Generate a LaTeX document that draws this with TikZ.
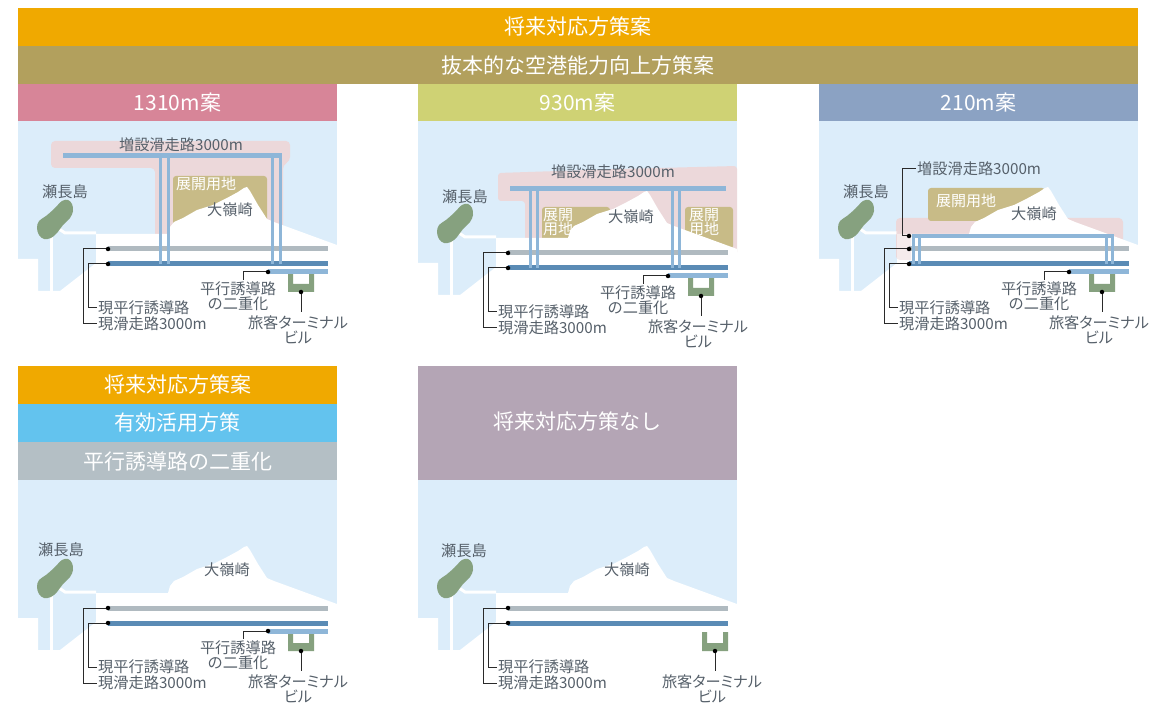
\documentclass[tikz,border=0pt]{standalone}
\usepackage{fontspec}
\setmainfont{Noto Sans CJK JP}
\newfontfamily\kanafont[RawFeature=+palt]{Noto Sans CJK JP}
\usetikzlibrary{calc}

\definecolor{barorange}{HTML}{F0A900}
\definecolor{barolive}{HTML}{B2A05D}
\definecolor{hdpink}{HTML}{D78598}
\definecolor{hdlime}{HTML}{CFD274}
\definecolor{hdsteel}{HTML}{8BA2C3}
\definecolor{hdsky}{HTML}{63C3EE}
\definecolor{hdgray}{HTML}{B4BFC5}
\definecolor{hdmauve}{HTML}{B4A5B5}
\definecolor{sea}{HTML}{DCEDFA}
\definecolor{reclaim}{HTML}{ECD8DA}
\definecolor{devland}{HTML}{C8BB87}
\definecolor{isle}{HTML}{86A17F}
\definecolor{rwblue}{HTML}{5A8BB5}
\definecolor{twgray}{HTML}{B0BAC0}
\definecolor{newblue}{HTML}{8EB6D8}
\definecolor{lbltext}{HTML}{56606A}
\definecolor{leadline}{HTML}{2A2A2A}

\tikzset{
  hdtext/.style={text=white, font=\fontsize{21}{23}\selectfont, inner sep=0pt},
  lbl/.style={text=lbltext, font=\fontsize{15.2}{15}\selectfont, inner sep=1pt},
  devlbl/.style={text=white, font=\fontsize{15}{14}\selectfont, inner sep=0pt},
  leader/.style={draw=leadline, line width=1pt},
  dotmark/.style={circle, fill=black, inner sep=0pt, minimum size=4.5pt},
  rwy/.style={draw=#1, line width=5pt},
  link/.style={draw=newblue, line width=3pt}
}

% sea background of one map
\newcommand\mapSea{\fill[sea] (0,-4) rectangle (319,176);}

% coast, piers, island and place names
\newcommand\mapLand[5]{%
  \fill[white] (0,180) -- (0,138) -- (20,138) -- (20,170) -- (42,170) -- (78,142) -- (78,113)
    -- (150,113) -- (152,106) -- (156,101) -- (165,97) -- (179,89) -- (195,84) -- (209,77)
    -- (220,71) -- (226,67) -- (229,66) -- (232,70) -- (240,84) -- (249,98) -- (256,101)
    -- (319,124) -- (319,180) -- cycle;
  \draw[white, line width=3pt] (33,108) -- (33,171);
  \draw[white, line width=3pt] (38,106) -- (47,112) -- (78,112);
  \fill[isle] plot[smooth cycle, tension=0.6] coordinates
    {(44,80) (50,79) (54,83) (55,90) (52,97) (45,104) (39,112) (33,117) (26,118) (21,114) (19,107) (21,100) (28,95) (36,88)};
  \node[lbl] (#1-isl) at (#2,#3) {瀬長島};
  \node[lbl] (#1-mt) at (#4,#5) {大嶺崎};
}

% existing runway and taxiway
\newcommand\mapRunways{%
  \draw[rwy=twgray] (90,128) -- (310,128);
  \draw[rwy=rwblue] (90,143) -- (310,143);
}

% leaders and names of the existing runway and taxiway
\newcommand\mapLabels[1]{%
  \node[lbl, anchor=west] (#1-twl) at (79,187) {現平行誘導路};
  \node[lbl, anchor=west] (#1-rwl) at (79,203) {現滑走路3000m};
  \coordinate (#1-gp) at (90,128);
  \coordinate (#1-bp) at (90,143);
  \draw[leader] (#1-gp) -- (65,128) |- (#1-rwl.west);
  \draw[leader] (#1-bp) -- (70,143) |- (#1-twl.west);
  \node[dotmark] (#1-gd) at (#1-gp) {};
  \node[dotmark] (#1-bd) at (#1-bp) {};
}

% second parallel taxiway
\newcommand\mapDual[1]{%
  \coordinate (#1-dp) at (250,151);
  \draw[rwy=newblue] (#1-dp) -- (310,151);
  \node[lbl, align=center] (#1-dl) at (220,175) {平行誘導路\\の二重化};
  \coordinate (#1-dk) at (225,159);
  \draw[leader] (#1-dp) -| (#1-dk);
  \node[dotmark] (#1-dd) at (#1-dp) {};
}

% passenger terminal
\newcommand\mapTerminal[2]{%
  \begin{scope}[shift={(#2,0)}]
    \fill[isle] (270,152) -- (275,152) -- (275,163) -- (291,163) -- (291,152) -- (296,152)
      -- (296,171) -- (270,171) -- cycle;
    \coordinate (#1-tp) at (283,171);
    \coordinate (#1-tk) at (283,191);
    \draw[leader] (#1-tp) -- (#1-tk);
    \node[dotmark] (#1-td) at (#1-tp) {};
    \node[lbl, align=center] (#1-tl) at (280,208.5) {\kanafont 旅客ターミナル\\\kanafont ビル};
  \end{scope}
}

\begin{document}
\begin{tikzpicture}[x=1pt, y=-1pt]
  \useasboundingbox (0,0) rectangle (1164,708);
  \fill[white] (0,0) rectangle (1164,708);

  % ---- 1310m plan ----
  \begin{scope}[shift={(18,121)}]
    \mapSea
    \fill[reclaim, rounded corners=4] (33,47) -- (33,20) -- (272,20) -- (272,40) -- (265,44)
      -- (265,118) -- (137,118) -- (137,47) -- cycle;
    \fill[devland, rounded corners=3] (155,55) rectangle (249,106);
    \node[devlbl, anchor=west] (p1-dv) at (158,63) {展開用地};
    \mapLand{p1}{47}{71}{212}{89}
    \mapRunways
    \draw[rwy=newblue] (45,35) -- (264,35);
    \foreach \vx in {142,150,254,262} \draw[link] (\vx,35) -- (\vx,143);
    \node[lbl] (p1-nl) at (163,24) {増設滑走路3000m};
    \mapTerminal{p1}{0}
    \mapDual{p1}
    \mapLabels{p1}
  \end{scope}

  % ---- 930m plan ----
  \begin{scope}[shift={(418,125)}]
    \mapSea
    \fill[reclaim, rounded corners=3] (80,76) -- (80,48) -- (200,44) -- (319,41) -- (319,130)
      -- (107,130) -- (107,76) -- cycle;
    \fill[devland, rounded corners=3] (124,82) rectangle (192,116);
    \fill[devland, rounded corners=3] (267,82) rectangle (315,124);
    \node[devlbl, anchor=north west, align=left] (p2-dv1) at (125,83) {展開\\用地};
    \node[devlbl, anchor=north west, align=left] (p2-dv2) at (271,83) {展開\\用地};
    \mapLand{p2}{47}{72}{213}{92}
    \mapRunways
    \draw[rwy=newblue] (92,64) -- (308,64);
    \foreach \vx in {112,119,254,261} \draw[link] (\vx,64) -- (\vx,143);
    \node[lbl] (p2-nl) at (195,47) {増設滑走路3000m};
    \mapTerminal{p2}{0}
    \mapDual{p2}
    \mapLabels{p2}
  \end{scope}

  % ---- 210m plan ----
  \begin{scope}[shift={(819,121)}]
    \mapSea
    \fill[reclaim, rounded corners=4] (77,97) rectangle (304,139);
    \fill[devland, rounded corners=3] (109,67) rectangle (226,100);
    \node[devlbl, anchor=west] (p3-dv) at (117,80) {展開用地};
    \mapLand{p3}{47}{71}{215}{93}
    \fill[reclaim, opacity=0.5] (77,113) -- (92,113) -- (92,139) [rounded corners=4] -- (77,139) -- (77,113) -- cycle;
    \mapRunways
    \draw[newblue, line width=4pt] (92.5,115) -- (294.5,115);
    \foreach \vx in {94,100,287,293} \draw[link] (\vx,115) -- (\vx,143);
    \node[lbl, anchor=west] (p3-nl) at (97,48) {増設滑走路3000m};
    \coordinate (p3-np) at (90,115);
    \draw[leader] (p3-np) -- (83,115) |- (p3-nl.west);
    \node[dotmark] (p3-nd) at (p3-np) {};
    \mapTerminal{p3}{0}
    \mapDual{p3}
    \mapLabels{p3}
  \end{scope}

  % ---- second parallel taxiway only ----
  \begin{scope}[shift={(18,480)}]
    \mapSea
    \mapLand{p4}{43}{70}{209}{90}
    \mapRunways
    \mapTerminal{p4}{0}
    \mapDual{p4}
    \mapLabels{p4}
  \end{scope}

  % ---- no measures ----
  \begin{scope}[shift={(418,480)}]
    \mapSea
    \mapLand{p5}{46}{71}{209}{90}
    \mapRunways
    \mapTerminal{p5}{14}
    \mapLabels{p5}
  \end{scope}

  % ---- title bars ----
  \fill[barorange] (18,8) rectangle (1138,46.5);
  \node[hdtext] (hA) at (578,27) {将来対応方策案};
  \fill[barolive] (18,46.5) rectangle (1138,84.5);
  \node[hdtext] (hB) at (578,65.5) {抜本的な空港能力向上方策案};
  \fill[hdpink] (18,84.5) rectangle (337,121);
  \node[hdtext] (h1) at (177.5,103) {1310m案};
  \fill[hdlime] (418,84.5) rectangle (737,121);
  \node[hdtext] (h2) at (577.5,103) {930m案};
  \fill[hdsteel] (819,84.5) rectangle (1138,121);
  \node[hdtext] (h3) at (978.5,103) {210m案};

  \fill[barorange] (18,366) rectangle (337,404);
  \node[hdtext] (h4a) at (177.5,385) {将来対応方策案};
  \fill[hdsky] (18,404) rectangle (337,442);
  \node[hdtext] (h4b) at (177.5,423) {有効活用方策};
  \fill[hdgray] (18,442) rectangle (337,480);
  \node[hdtext] (h4c) at (177.5,461.5) {平行誘導路の二重化};
  \fill[hdmauve] (418,366) rectangle (737,480);
  \node[hdtext] (h5) at (577.5,422) {将来対応方策なし};
\end{tikzpicture}
\end{document}
